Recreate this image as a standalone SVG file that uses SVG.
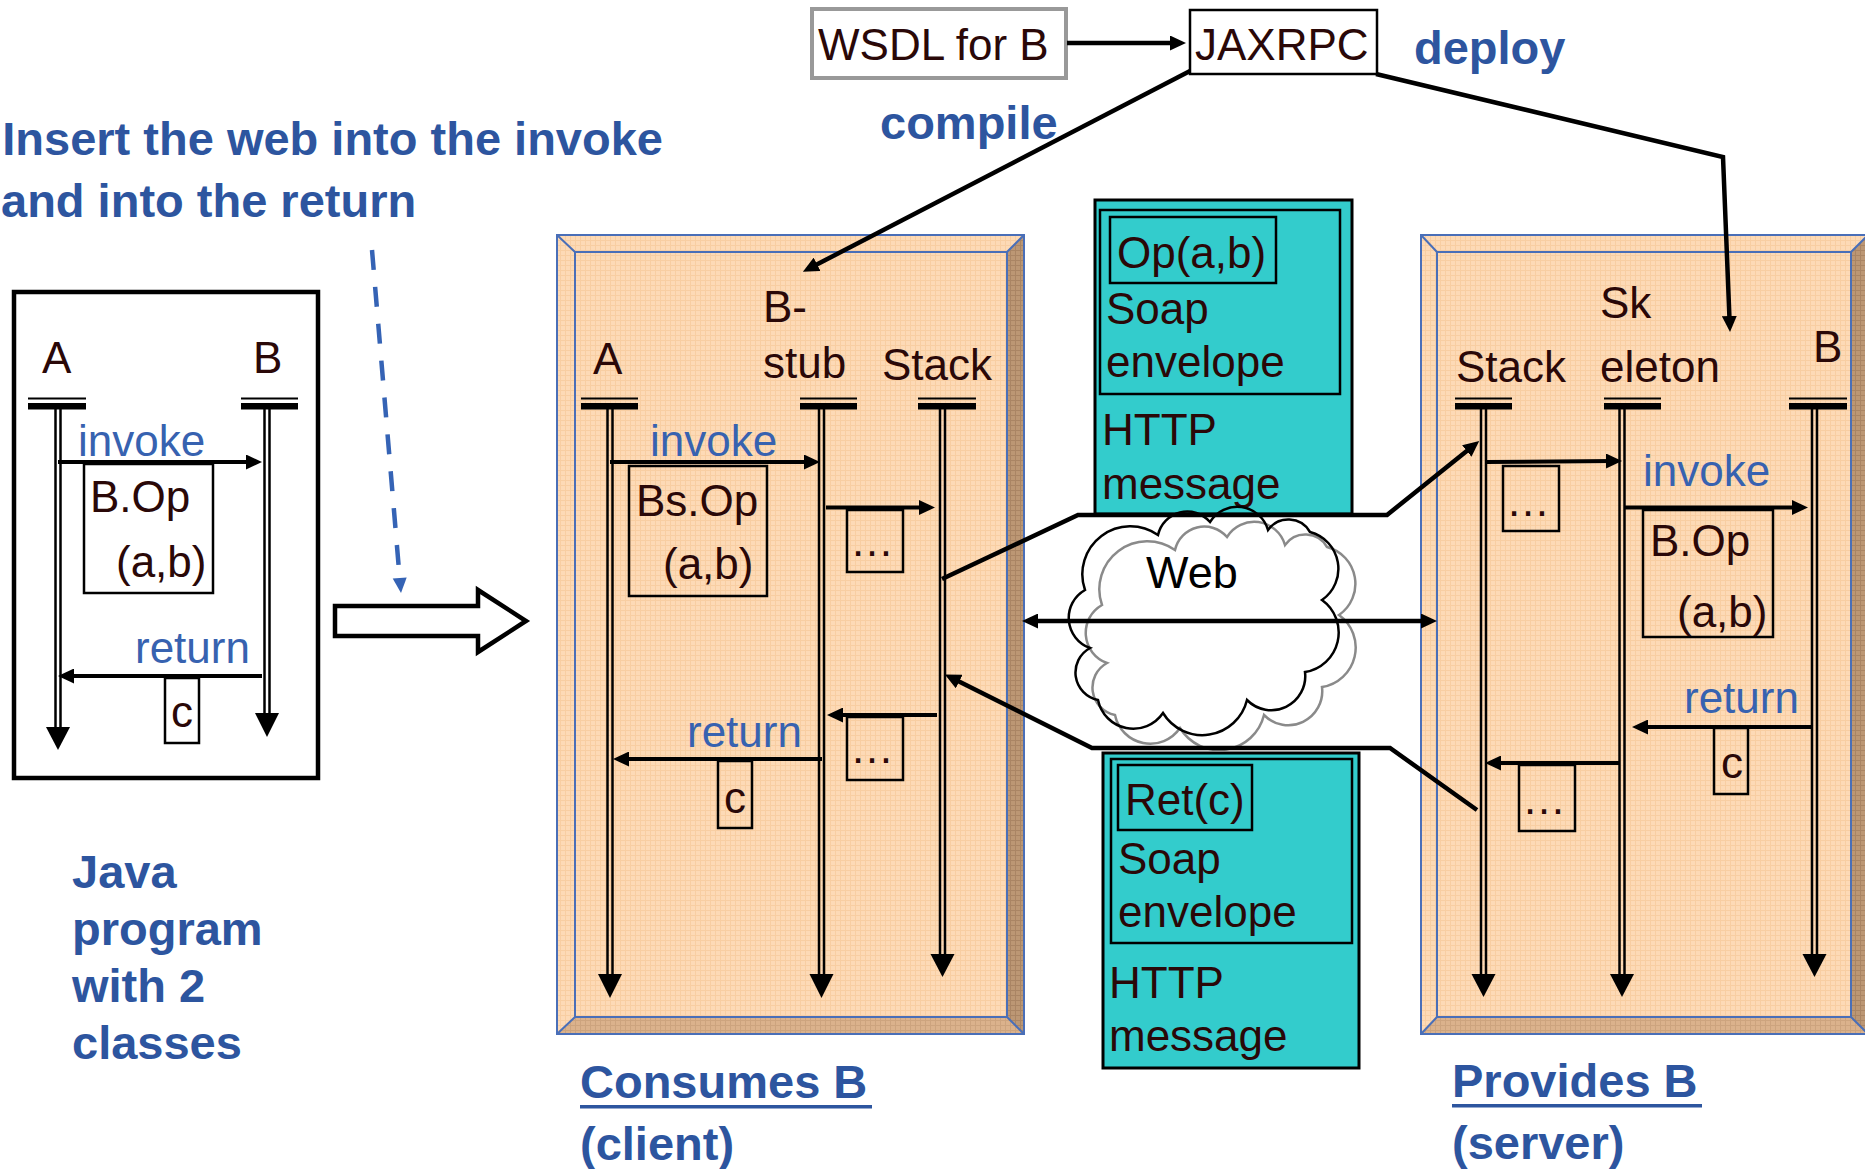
<svg xmlns="http://www.w3.org/2000/svg" width="1865" height="1169" viewBox="0 0 1865 1169">
<defs>
<style>
.t{font-family:"Liberation Sans",Arial,sans-serif;font-size:44px;fill:#2a0808}
.bl{font-family:"Liberation Sans",Arial,sans-serif;font-size:44px;fill:#3762b0}
.h{font-family:"Liberation Sans",Arial,sans-serif;font-size:47px;font-weight:bold;fill:#2d559f}
.bx{fill:none;stroke:#000;stroke-width:2.5}
.vl{stroke:#000;stroke-width:2.5}
.msg{stroke:#000;stroke-width:4;fill:none;marker-end:url(#ah)}
.con{stroke:#000;stroke-width:4.5;fill:none;stroke-linejoin:miter}
.teal{fill:#33CCCC;stroke:#000;stroke-width:3}
.pb{fill:none;stroke:#4a6fb8;stroke-width:2}
</style>
<marker id="ah" markerUnits="userSpaceOnUse" markerWidth="16" markerHeight="15" refX="8" refY="7.5" orient="auto" viewBox="0 0 16 15">
<path d="M0,0 L16,7.5 L0,15 z" fill="#000"/>
</marker>
<marker id="ahs" markerUnits="userSpaceOnUse" markerWidth="16" markerHeight="15" refX="8" refY="7.5" orient="auto-start-reverse" viewBox="0 0 16 15">
<path d="M0,0 L16,7.5 L0,15 z" fill="#000"/>
</marker>
<pattern id="tex" width="5" height="5" patternUnits="userSpaceOnUse">
<rect width="5" height="5" fill="#FDDAB6"/>
<path d="M0 0.5H5M0.5 0V5" stroke="#F7C99A" stroke-width="1" opacity="0.7"/>
</pattern>
<pattern id="texd" width="5" height="5" patternUnits="userSpaceOnUse">
<rect width="5" height="5" fill="#BC9774"/>
<path d="M0 0.5H5M0.5 0V5" stroke="#A27D5C" stroke-width="1" opacity="0.7"/>
</pattern>
<pattern id="texm" width="5" height="5" patternUnits="userSpaceOnUse">
<rect width="5" height="5" fill="#DBB28C"/>
<path d="M0 0.5H5M0.5 0V5" stroke="#C89E78" stroke-width="1" opacity="0.7"/>
</pattern>
</defs>
<rect width="1865" height="1169" fill="#fff"/>

<!-- headline texts -->
<g id="title">
<text class="h" x="663" y="155" text-anchor="end">Insert the web into the invoke</text>
<text class="h" x="1" y="217">and into the return</text>
</g>

<!-- Java program box -->
<g id="java-program">
<rect x="14" y="292" width="304" height="486" fill="none" stroke="#000" stroke-width="4.5"/>
<text class="t" x="42" y="373">A</text>
<text class="t" x="253" y="373">B</text>
<rect x="28" y="397.5" width="58" height="2" fill="#000"/>
<rect x="28" y="403" width="58" height="6.5" fill="#000"/>
<rect x="241" y="397.5" width="57" height="2" fill="#000"/>
<rect x="241" y="403" width="57" height="6.5" fill="#000"/>
<line class="vl" x1="55.5" y1="409" x2="55.5" y2="728"/>
<line class="vl" x1="60.5" y1="409" x2="60.5" y2="728"/>
<polygon points="46,727 70,727 58,750"/>
<line class="vl" x1="264.5" y1="409" x2="264.5" y2="714"/>
<line class="vl" x1="269.5" y1="409" x2="269.5" y2="714"/>
<polygon points="255,713 279,713 267,737"/>
<text class="bl" x="78" y="456">invoke</text>
<line class="msg" x1="58" y1="462" x2="254" y2="462"/>
<rect class="bx" x="84" y="464" width="129" height="129"/>
<text class="t" x="90" y="512">B.Op</text>
<text class="t" x="116" y="577">(a,b)</text>
<text class="bl" x="135" y="663">return</text>
<line class="msg" x1="262" y1="676" x2="66" y2="676"/>
<rect class="bx" x="165" y="678" width="34" height="65"/>
<text class="t" x="171" y="727">c</text>
</g>

<g id="java-caption">
<text class="h" x="72" y="888">Java</text>
<text class="h" x="72" y="945">program</text>
<text class="h" x="72" y="1002">with 2</text>
<text class="h" x="72" y="1059">classes</text>
</g>

<!-- transform arrows -->
<g id="transform">
<line x1="372" y1="250" x2="399.5" y2="576" stroke="#3563b5" stroke-width="4.5" stroke-dasharray="20 17"/>
<polygon points="392.7,578.6 406.7,577.4 401,593" fill="#3563b5"/>
<polygon points="335,606 478,606 478,590 526,621 478,652 478,636 335,636" fill="#fff" stroke="#000" stroke-width="4.5"/>
</g>

<!-- Client panel -->
<g id="client-panel">
<polygon points="557,235 1024,235 1007,252 575,252" fill="url(#tex)"/>
<polygon points="557,235 575,252 575,1017 557,1034" fill="url(#tex)"/>
<polygon points="1024,235 1024,1034 1007,1017 1007,252" fill="url(#texd)"/>
<polygon points="557,1034 575,1017 1007,1017 1024,1034" fill="url(#texm)"/>
<rect x="575" y="252" width="432" height="765" fill="url(#tex)"/>
<rect class="pb" x="557" y="235" width="467" height="799"/>
<rect class="pb" x="575" y="252" width="432" height="765"/>
<path class="pb" d="M557,235 L575,252 M1024,235 L1007,252 M557,1034 L575,1017 M1024,1034 L1007,1017"/>
</g>

<g id="client">
<text class="t" x="593" y="374">A</text>
<text class="t" x="763" y="322">B-</text>
<text class="t" x="763" y="378">stub</text>
<text class="t" x="882" y="380">Stack</text>
<rect x="581" y="397.5" width="57" height="2" fill="#000"/>
<rect x="581" y="403" width="57" height="6.5" fill="#000"/>
<rect x="800" y="397.5" width="57" height="2" fill="#000"/>
<rect x="800" y="403" width="57" height="6.5" fill="#000"/>
<rect x="918" y="397.5" width="58" height="2" fill="#000"/>
<rect x="918" y="403" width="58" height="6.5" fill="#000"/>
<line class="vl" x1="607.5" y1="409" x2="607.5" y2="975"/>
<line class="vl" x1="612.5" y1="409" x2="612.5" y2="975"/>
<polygon points="598,974 622,974 610,998"/>
<line class="vl" x1="819" y1="409" x2="819" y2="975"/>
<line class="vl" x1="824" y1="409" x2="824" y2="975"/>
<polygon points="809.5,974 833.5,974 821.5,998"/>
<line class="vl" x1="940" y1="409" x2="940" y2="955"/>
<line class="vl" x1="945" y1="409" x2="945" y2="955"/>
<polygon points="930.5,954 954.5,954 942.5,977"/>
<text class="bl" x="650" y="456">invoke</text>
<line class="msg" x1="610" y1="462" x2="812" y2="462"/>
<rect class="bx" x="629" y="466" width="138" height="130"/>
<text class="t" x="636" y="516">Bs.Op</text>
<text class="t" x="663" y="579">(a,b)</text>
<line class="msg" x1="826" y1="507.5" x2="927" y2="507.5"/>
<rect class="bx" x="847" y="510" width="56" height="62"/>
<text class="t" x="850" y="556">…</text>
<line class="msg" x1="937" y1="715" x2="835" y2="715"/>
<rect class="bx" x="847" y="717" width="56" height="63"/>
<text class="t" x="850" y="763">…</text>
<text class="bl" x="687" y="747">return</text>
<line class="msg" x1="822" y1="759" x2="621" y2="759"/>
<rect class="bx" x="718" y="761" width="34" height="67"/>
<text class="t" x="724" y="813">c</text>
</g>

<!-- Server panel -->
<g id="server-panel">
<polygon points="1421,235 1868,235 1851,252 1437,252" fill="url(#tex)"/>
<polygon points="1421,235 1437,252 1437,1017 1421,1034" fill="url(#tex)"/>
<polygon points="1868,235 1868,1034 1851,1017 1851,252" fill="url(#texd)"/>
<polygon points="1421,1034 1437,1017 1851,1017 1868,1034" fill="url(#texm)"/>
<rect x="1437" y="252" width="414" height="765" fill="url(#tex)"/>
<rect class="pb" x="1421" y="235" width="447" height="799"/>
<rect class="pb" x="1437" y="252" width="414" height="765"/>
<path class="pb" d="M1421,235 L1437,252 M1868,235 L1851,252 M1421,1034 L1437,1017 M1868,1034 L1851,1017"/>
</g>

<g id="server">
<text class="t" x="1600" y="318">Sk</text>
<text class="t" x="1456" y="382">Stack</text>
<text class="t" x="1600" y="382">eleton</text>
<text class="t" x="1813" y="362">B</text>
<rect x="1455" y="397.5" width="57" height="2" fill="#000"/>
<rect x="1455" y="403" width="57" height="6.5" fill="#000"/>
<rect x="1604" y="397.5" width="57" height="2" fill="#000"/>
<rect x="1604" y="403" width="57" height="6.5" fill="#000"/>
<rect x="1789" y="397.5" width="58" height="2" fill="#000"/>
<rect x="1789" y="403" width="58" height="6.5" fill="#000"/>
<line class="vl" x1="1481" y1="409" x2="1481" y2="975"/>
<line class="vl" x1="1486" y1="409" x2="1486" y2="975"/>
<polygon points="1471.5,974 1495.5,974 1483.5,997"/>
<line class="vl" x1="1619.5" y1="409" x2="1619.5" y2="975"/>
<line class="vl" x1="1624.5" y1="409" x2="1624.5" y2="975"/>
<polygon points="1610,974 1634,974 1622,997"/>
<line class="vl" x1="1812" y1="409" x2="1812" y2="955"/>
<line class="vl" x1="1817" y1="409" x2="1817" y2="955"/>
<polygon points="1802.5,954 1826.5,954 1814.5,977"/>
<line class="msg" x1="1486" y1="462" x2="1614" y2="461"/>
<rect class="bx" x="1503" y="466" width="56" height="65"/>
<text class="t" x="1506" y="516">…</text>
<text class="bl" x="1643" y="486">invoke</text>
<line class="msg" x1="1624" y1="507.5" x2="1800" y2="507.5"/>
<rect class="bx" x="1643" y="510" width="130" height="127"/>
<text class="t" x="1650" y="556">B.Op</text>
<text class="t" x="1677" y="627">(a,b)</text>
<text class="bl" x="1684" y="713">return</text>
<line class="msg" x1="1812" y1="727" x2="1640" y2="727"/>
<rect class="bx" x="1714" y="728" width="34" height="66"/>
<text class="t" x="1721" y="778">c</text>
<line class="msg" x1="1620" y1="763" x2="1493" y2="763"/>
<rect class="bx" x="1519" y="765" width="56" height="66"/>
<text class="t" x="1522" y="814">…</text>
</g>

<g id="captions">
<text class="h" x="580" y="1098">Consumes B</text>
<rect x="580" y="1105" width="292" height="3.5" fill="#2d559f"/>
<text class="h" x="580" y="1160">(client)</text>
<text class="h" x="1452" y="1097">Provides B</text>
<rect x="1452" y="1104" width="250" height="3.5" fill="#2d559f"/>
<text class="h" x="1452" y="1159">(server)</text>
</g>

<!-- SOAP messages -->
<g id="request-message">
<rect class="teal" x="1095" y="200" width="257" height="314"/>
<rect class="bx" x="1100" y="210" width="240" height="184"/>
<rect class="bx" x="1110" y="217" width="166" height="66"/>
<text class="t" x="1117" y="268">Op(a,b)</text>
<text class="t" x="1106" y="324">Soap</text>
<text class="t" x="1106" y="377">envelope</text>
<text class="t" x="1102" y="445">HTTP</text>
<text class="t" x="1102" y="499">message</text>
</g>

<g id="response-message">
<rect class="teal" x="1103" y="753" width="256" height="315"/>
<rect class="bx" x="1111" y="759" width="241" height="184"/>
<rect class="bx" x="1118" y="765" width="134" height="65"/>
<text class="t" x="1125" y="815">Ret(c)</text>
<text class="t" x="1118" y="874">Soap</text>
<text class="t" x="1118" y="927">envelope</text>
<text class="t" x="1109" y="998">HTTP</text>
<text class="t" x="1109" y="1051">message</text>
</g>

<!-- Web cloud -->
<g id="web">
<path transform="translate(17,15)" d="M1085,590 A48,48 0 0 1 1158,535 A30,30 0 0 1 1210,522 A32,32 0 0 1 1268,530 A25,25 0 0 1 1310,532 A38,38 0 0 1 1322,600 A40,40 0 0 1 1305,672 A34,34 0 0 1 1247,700 A46,46 0 0 1 1163,713 A36,36 0 0 1 1098,700 A28,28 0 0 1 1090,648 A32,32 0 0 1 1085,590 z" fill="none" stroke="#8a8a8a" stroke-width="2.5"/>
<path d="M1085,590 A48,48 0 0 1 1158,535 A30,30 0 0 1 1210,522 A32,32 0 0 1 1268,530 A25,25 0 0 1 1310,532 A38,38 0 0 1 1322,600 A40,40 0 0 1 1305,672 A34,34 0 0 1 1247,700 A46,46 0 0 1 1163,713 A36,36 0 0 1 1098,700 A28,28 0 0 1 1090,648 A32,32 0 0 1 1085,590 z" fill="none" stroke="#000" stroke-width="2.5"/>
<text x="1146" y="588" style="font-family:'Liberation Sans',Arial,sans-serif;font-size:45px;fill:#000">Web</text>
</g>

<!-- top tools -->
<g id="wsdl">
<rect x="812" y="9" width="254" height="69" fill="#fff" stroke="#999" stroke-width="4"/>
<text class="t" x="818" y="60">WSDL for B</text>
</g>
<g id="jaxrpc">
<rect x="1190" y="10" width="187" height="64" fill="#fff" stroke="#000" stroke-width="2.5"/>
<text class="t" x="1195" y="60">JAXRPC</text>
</g>
<g id="labels">
<text class="h" x="1414" y="64">deploy</text>
<text class="h" x="880" y="139">compile</text>
</g>

<!-- connectors -->
<g id="connectors">
<line class="con" x1="1067" y1="43" x2="1178" y2="43" marker-end="url(#ah)"/>
<line class="con" x1="1190" y1="71" x2="810" y2="268" marker-end="url(#ah)"/>
<polyline class="con" points="1376,74 1723,157 1729.7,324" marker-end="url(#ah)"/>
<polyline class="con" points="942,579 1078,515 1387,515 1473,446" marker-end="url(#ah)"/>
<polyline class="con" points="1477,810 1390,748 1092,748 952,678" marker-end="url(#ah)"/>
<line class="con" x1="1030" y1="621" x2="1429" y2="621" marker-start="url(#ahs)" marker-end="url(#ahs)"/>
</g>
</svg>
